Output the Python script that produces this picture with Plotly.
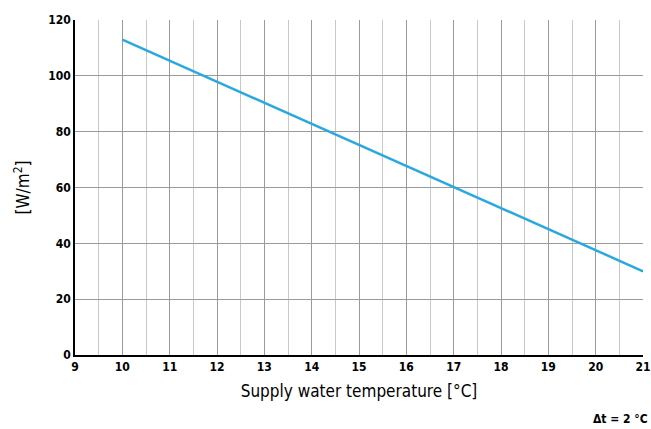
import plotly.graph_objects as go

supply_temp = [10, 21]
heat_output = [113, 30]
x_ticks = list(range(9, 22))
y_ticks = [0, 20, 40, 60, 80, 100, 120]

FONT = "DejaVu Sans Condensed, Liberation Sans Narrow, Roboto, sans-serif"

fig = go.Figure()
fig.add_trace(go.Scatter(x=supply_temp, y=heat_output, mode="lines",
                         line=dict(color="#2aa9e0", width=2.5), showlegend=False))

fig.update_layout(
    width=651, height=429,
    margin=dict(l=75, r=8, t=20, b=74, autoexpand=False),
    paper_bgcolor="white", plot_bgcolor="white",
    font=dict(family=FONT, color="black"),
    xaxis=dict(range=[9, 21], tickvals=x_ticks, ticks="", showline=True,
               linecolor="black", linewidth=1.5, showgrid=True, gridcolor="#9a9a9a",
               gridwidth=1, zeroline=False, automargin=False, ticklabeloverflow="allow",
               minor=dict(dtick=0.5, tick0=9, showgrid=True, gridcolor="#c8c8c8", gridwidth=1),
               tickfont=dict(size=12, family=FONT, weight="bold"),
               title=dict(text="Supply water temperature [°C]", font=dict(size=17, family=FONT),
                          standoff=12)),
    yaxis=dict(range=[0, 120], tickvals=y_ticks, ticks="", showline=True,
               linecolor="black", linewidth=1.5, showgrid=True, gridcolor="#9a9a9a",
               gridwidth=1, zeroline=False, automargin=False,
               tickfont=dict(size=12, family=FONT, weight="bold"),
               title=dict(text="[W/m<sup>2</sup>]", font=dict(size=17, family=FONT),
                          standoff=14)),
)
fig.add_annotation(text="Δt = 2 °C", xref="paper", yref="paper", x=1.012, y=-0.19,
                   xanchor="right", yanchor="middle", showarrow=False,
                   font=dict(size=12, family=FONT, weight="bold"))

fig.write_html("out.html")
